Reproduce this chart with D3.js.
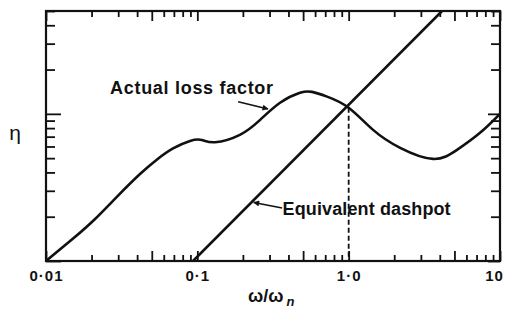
<!DOCTYPE html>
<html><head><meta charset="utf-8">
<script src="https://cdn.jsdelivr.net/npm/d3@7"></script>
<style>
html,body{margin:0;padding:0;background:#fff;}
svg{display:block;}
text{font-family:"Liberation Sans",Arial,sans-serif;fill:#111;}
</style></head>
<body>
<svg id="c" width="505" height="314"></svg>
<script>
// ---- data ----
const omegaActual = [0.01, 0.0151, 0.0211, 0.0295, 0.0418, 0.0542, 0.0691, 0.0895, 0.107, 0.131, 0.191, 0.260, 0.352, 0.477, 0.573, 0.720, 1.0, 1.45, 2.19, 3.61, 5.20, 7.38, 10];
const etaActual   = [1.0, 1.42, 1.93, 2.74, 3.90, 4.90, 5.82, 6.55, 6.65, 6.42, 7.2, 9.1, 11.9, 13.9, 14.1, 13.1, 11.0, 7.78, 5.87, 4.94, 5.69, 7.43, 10];
const omegaDashpot = [0.0937, 4.14];
const etaDashpot   = [1, 50];
const resonanceOmega = 1.0;
const resonanceEta = 11.0;
const xTickValues = [0.01, 0.1, 1, 10];
const xTickLabels = ["0\u00B701", "0\u00B71", "1\u00B70", "10"];
const labelActual = "Actual loss factor";
const labelDashpot = "Equivalent dashpot";
// annotation anchor points in data units [omega, eta]
const actualText = [0.0265, 13.7];
const actualArrow = [[0.186, 12.1], [0.293, 10.8]];
const dashpotText = [0.366, 2.06];
const dashpotArrow = [[0.363, 2.29], [0.236, 2.5]];

const svg = d3.select("#c");
const L = 46, R = 500, T = 11, B = 261;
const x = d3.scaleLog().domain([0.01, 10]).range([L, R]);
const y = d3.scaleLog().domain([1, 50]).range([B, T]);

function logTicks(lo, hi) {
  const out = [];
  for (let e = Math.floor(Math.log10(lo)); e <= Math.ceil(Math.log10(hi)); e++) {
    for (let m = 1; m <= 9; m++) {
      const v = +(m * Math.pow(10, e)).toPrecision(6);
      if (v >= lo * 0.9999 && v <= hi * 1.0001) out.push({v, m});
    }
  }
  return out;
}
const xt = logTicks(0.01, 10);
const yt = logTicks(1, 50);
const xMajor = xt.filter(d => d.m === 1 || d.m === 5).map(d => d.v);
const xMinor = xt.filter(d => !(d.m === 1 || d.m === 5)).map(d => d.v);
const yMajor = yt.filter(d => d.m === 1).map(d => d.v);
const yMinor = yt.filter(d => d.m !== 1).map(d => d.v);

function addAxis(axis, tx, ty) {
  const g = svg.append("g").attr("transform", `translate(${tx},${ty})`).call(axis);
  g.select(".domain").remove();
  g.selectAll("text").remove();
  g.selectAll("line").attr("stroke", "#111").attr("stroke-width", 1.8);
  return g;
}
addAxis(d3.axisBottom(x).tickValues(xMinor).tickSize(-6), 0, B);
addAxis(d3.axisBottom(x).tickValues(xMajor).tickSize(-10), 0, B);
addAxis(d3.axisTop(x).tickValues(xMinor).tickSize(-6), 0, T);
addAxis(d3.axisTop(x).tickValues(xMajor).tickSize(-10), 0, T);
addAxis(d3.axisLeft(y).tickValues(yMinor).tickSize(-9), L, 0);
addAxis(d3.axisLeft(y).tickValues(yMajor).tickSize(-15), L, 0);
addAxis(d3.axisRight(y).tickValues(yMinor).tickSize(-9), R, 0);
addAxis(d3.axisRight(y).tickValues(yMajor).tickSize(-12), R, 0);

// frame
svg.append("rect").attr("x", L).attr("y", T).attr("width", R - L).attr("height", B - T)
  .attr("fill", "none").attr("stroke", "#111").attr("stroke-width", 2.2);

// tick labels
const lab = svg.append("g").attr("transform", `translate(0,${B})`)
  .call(d3.axisBottom(x).tickValues(xTickValues).tickSize(0).tickPadding(9)
    .tickFormat((d, i) => xTickLabels[i]));
lab.select(".domain").remove();
lab.selectAll("text").attr("font-size", 15).attr("font-weight", "bold")
  .attr("font-family", "Liberation Sans, Arial, sans-serif").attr("fill", "#111")
  .attr("letter-spacing", 1)
  .attr("dx", (d, i) => i === xTickLabels.length - 1 ? -6 : 0);

// curves
svg.append("clipPath").attr("id", "pc").append("rect")
  .attr("x", L).attr("y", T).attr("width", R - L).attr("height", B - T);
const line = d3.line().x(d => x(d[0])).y(d => y(d[1])).curve(d3.curveNatural);
svg.append("path").datum(omegaActual.map((o, i) => [o, etaActual[i]]))
  .attr("d", line).attr("fill", "none").attr("stroke", "#111").attr("stroke-width", 2.6)
  .attr("stroke-linejoin", "round").attr("clip-path", "url(#pc)");
svg.append("path").datum(omegaDashpot.map((o, i) => [o, etaDashpot[i]]))
  .attr("d", d3.line().x(d => x(d[0])).y(d => y(d[1]))).attr("fill", "none")
  .attr("stroke", "#111").attr("stroke-width", 2.6).attr("clip-path", "url(#pc)");
svg.append("line").attr("x1", x(resonanceOmega)).attr("x2", x(resonanceOmega))
  .attr("y1", y(resonanceEta)).attr("y2", y(1))
  .attr("stroke", "#111").attr("stroke-width", 1.8).attr("stroke-dasharray", "5,3");

// arrow markers
svg.append("defs").append("marker").attr("id", "ah").attr("viewBox", "0 0 10 10")
  .attr("refX", 9).attr("refY", 5).attr("markerWidth", 7).attr("markerHeight", 6)
  .attr("markerUnits", "userSpaceOnUse").attr("orient", "auto")
  .append("path").attr("d", "M0,0 L10,5 L0,10 z").attr("fill", "#111");

svg.append("line").attr("x1", x(actualArrow[0][0])).attr("y1", y(actualArrow[0][1]))
  .attr("x2", x(actualArrow[1][0])).attr("y2", y(actualArrow[1][1]))
  .attr("stroke", "#111").attr("stroke-width", 1.6).attr("marker-end", "url(#ah)");
svg.append("line").attr("x1", x(dashpotArrow[0][0])).attr("y1", y(dashpotArrow[0][1]))
  .attr("x2", x(dashpotArrow[1][0])).attr("y2", y(dashpotArrow[1][1]))
  .attr("stroke", "#111").attr("stroke-width", 1.6).attr("marker-end", "url(#ah)");

svg.append("text").attr("x", x(actualText[0])).attr("y", y(actualText[1]))
  .attr("font-size", 18).attr("font-weight", "bold").attr("textLength", 163)
  .attr("lengthAdjust", "spacing").text(labelActual);
svg.append("text").attr("x", x(dashpotText[0])).attr("y", y(dashpotText[1]))
  .attr("font-size", 18).attr("font-weight", "bold").attr("textLength", 168)
  .attr("lengthAdjust", "spacing").text(labelDashpot);

// axis titles
svg.append("text").attr("x", 15).attr("y", 140).attr("text-anchor", "middle")
  .attr("font-size", 21).attr("font-family", "DejaVu Sans, sans-serif")
  .text("\u03B7");
const xl = svg.append("text").attr("x", 248).attr("y", 302).attr("font-size", 18)
  .attr("font-weight", "bold");
xl.append("tspan").text("\u03C9/\u03C9");
xl.append("tspan").attr("dx", 3).attr("dy", 4).attr("font-size", 13).attr("font-style", "italic").text("n");
</script>
</body></html>
